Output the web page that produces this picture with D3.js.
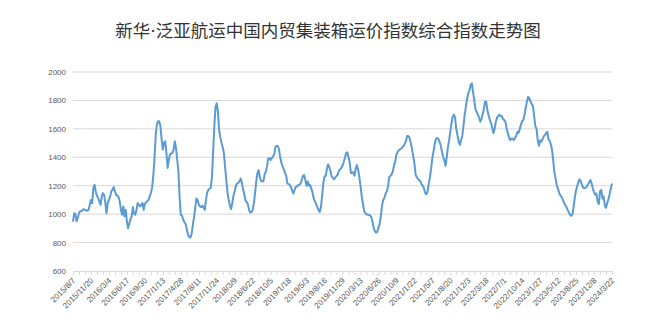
<!DOCTYPE html>
<html><head><meta charset="utf-8">
<script src="https://cdn.jsdelivr.net/npm/d3@7"></script>
<style>body{margin:0;background:#fff}svg{display:block}</style>
</head><body>
<svg id="c" width="660" height="330"></svg>
<script>
const titleParts = ["新华", "·", "泛亚航运中国内贸集装箱运价指数综合指数走势图"];
const startDate = new Date(2015, 7, 7);
const yTicks = [600, 800, 1000, 1200, 1400, 1600, 1800, 2000];
const labelEvery = 15;
const tickEvery = 5;
const values = [
948,1007,1000,950,975,1007,1020,1020,1030,1035,
1030,1025,1025,1030,1065,1100,1078,1183,1207,1160,
1130,1113,1090,1065,1125,1148,1136,1078,1007,1078,
1100,1125,1160,1172,1190,1160,1136,1130,1120,1090,
1030,995,1054,985,1030,948,901,932,965,985,
1050,1002,995,1030,1078,1066,1054,1066,1078,1030,
1073,1082,1090,1100,1125,1148,1183,1266,1384,1548,
1630,1654,1654,1619,1525,1454,1501,1513,1431,1325,
1384,1419,1426,1431,1454,1513,1466,1384,1300,1120,
995,990,960,945,930,895,855,840,835,860,
920,975,1040,1110,1100,1070,1054,1050,1060,1045,
1030,1100,1150,1170,1180,1185,1260,1440,1620,1755,
1780,1720,1590,1540,1500,1470,1430,1330,1240,1150,
1100,1060,1035,1080,1130,1160,1200,1215,1220,1230,
1250,1220,1175,1140,1095,1085,1070,1030,1010,1015,
1030,1075,1150,1230,1290,1310,1260,1235,1230,1232,
1280,1300,1336,1390,1395,1380,1395,1405,1420,1475,
1480,1480,1455,1400,1360,1335,1315,1290,1270,1215,
1213,1205,1190,1165,1145,1170,1190,1195,1205,1207,
1215,1240,1270,1275,1240,1200,1230,1200,1205,1180,
1150,1110,1090,1070,1050,1030,1015,1050,1130,1220,
1265,1268,1320,1350,1330,1300,1265,1255,1245,1258,
1268,1280,1305,1315,1325,1340,1365,1395,1430,1435,
1400,1365,1290,1290,1295,1270,1320,1345,1313,1266,
1200,1130,1075,1025,1008,1000,995,995,990,982,
950,905,880,871,875,905,930,985,1060,1100,
1115,1145,1160,1195,1260,1268,1280,1300,1340,1370,
1420,1435,1450,1455,1460,1472,1480,1495,1515,1550,
1550,1535,1500,1460,1410,1360,1280,1260,1248,1240,
1232,1210,1200,1183,1150,1140,1158,1215,1260,1320,
1395,1440,1495,1528,1536,1530,1510,1485,1440,1405,
1380,1340,1400,1470,1520,1580,1640,1685,1700,1680,
1600,1555,1510,1488,1520,1550,1620,1700,1755,1810,
1850,1870,1910,1920,1860,1800,1740,1720,1700,1680,
1650,1670,1700,1740,1790,1790,1730,1695,1665,1640,
1607,1570,1600,1650,1680,1690,1700,1690,1690,1670,
1662,1650,1605,1570,1540,1520,1532,1530,1522,1535,
1550,1580,1572,1600,1630,1654,1664,1700,1750,1795,
1825,1815,1790,1775,1760,1690,1620,1600,1520,1480,
1520,1510,1525,1548,1555,1570,1580,1525,1515,1490,
1450,1370,1290,1245,1200,1175,1148,1130,1120,1100,
1080,1062,1050,1030,1010,995,988,1000,1055,1120,
1170,1200,1228,1245,1230,1205,1185,1183,1185,1195,
1210,1225,1240,1215,1180,1155,1136,1145,1090,1070,
1160,1170,1110,1125,1060,1045,1078,1105,1140,1180,
1215
];
const fmt = d => d.getFullYear() + "/" + (d.getMonth() + 1) + "/" + d.getDate();
const categories = values.map((v, i) => fmt(d3.timeDay.offset(startDate, i * 7)));

const svg = d3.select("#c");
const x = d3.scalePoint().domain(categories).range([73, 612]);
const y = d3.scaleLinear().domain([600, 2000]).range([271, 72]);

const t = svg.append("text").attr("x", 328).attr("y", 37).attr("text-anchor", "middle")
  .attr("font-family", "'Noto Sans CJK SC', sans-serif").attr("font-size", 17.5)
  .attr("fill", "#333");
t.append("tspan").text(titleParts[0]);
t.append("tspan").attr("font-family", "'DejaVu Sans', sans-serif").text(titleParts[1]);
t.append("tspan").text(titleParts[2]);

// gridlines
svg.append("g").selectAll("line").data(yTicks.filter(v => v > 600)).join("line")
  .attr("x1", 73).attr("x2", 612).attr("y1", d => y(d)).attr("y2", d => y(d))
  .attr("stroke", "#d9d9d9").attr("stroke-width", 1);

// y axis labels
const yAxis = d3.axisLeft(y).tickValues(yTicks).tickSize(0).tickPadding(7).tickFormat(d3.format("d"));
const gy = svg.append("g").attr("transform", "translate(73,0)").call(yAxis);
gy.select(".domain").remove();
gy.selectAll("text").attr("font-family", "'Liberation Sans', Arial, sans-serif")
  .attr("font-size", 8).attr("fill", "#595959");

// x axis
const tickCats = categories.filter((c, i) => i % tickEvery === 0);
const labelCats = categories.filter((c, i) => i % labelEvery === 0);
const xAxis = d3.axisBottom(x).tickValues(tickCats).tickSize(4).tickFormat("");
const gx = svg.append("g").attr("transform", `translate(0,${y(600)})`).call(xAxis);
gx.select(".domain").attr("stroke", "#d9d9d9");
gx.selectAll(".tick line").attr("stroke", "#d9d9d9");
svg.append("g").selectAll("text").data(labelCats).join("text")
  .attr("transform", d => `translate(${x(d) + 3},${y(600) + 10}) rotate(-45)`)
  .attr("text-anchor", "end")
  .attr("font-family", "'Liberation Sans', Arial, sans-serif")
  .attr("font-size", 8).attr("fill", "#595959").text(d => d);

// line
const line = d3.line().x((d, i) => x(categories[i])).y(d => y(d));
svg.append("path").datum(values).attr("d", line)
  .attr("fill", "none").attr("stroke", "#5b9bd5").attr("stroke-width", 2)
  .attr("stroke-linejoin", "round");
</script>
</body></html>
